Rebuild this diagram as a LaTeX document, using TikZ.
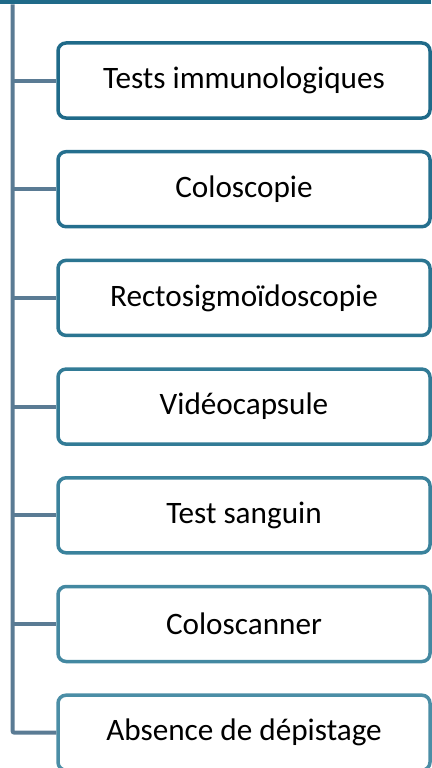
\documentclass[tikz,border=0pt]{standalone}
\usepackage{fontspec}
\setmainfont{Carlito}
\definecolor{linkc}{HTML}{5A7B94}
\definecolor{topc}{HTML}{1F6A89}
\definecolor{boxa}{HTML}{1F6A89}
\definecolor{boxb}{HTML}{256F8E}
\definecolor{boxc}{HTML}{2B7591}
\definecolor{boxd}{HTML}{327B96}
\definecolor{boxe}{HTML}{3A829C}
\definecolor{boxf}{HTML}{4388A1}
\definecolor{boxg}{HTML}{4B8EA6}
\begin{document}
\begin{tikzpicture}[x=1pt,y=-1pt,
  item/.style={draw=#1, line width=3.5pt, rounded corners=8pt, fill=white,
    minimum width=372pt, minimum height=75pt, inner sep=0pt,
    font=\fontsize{31.2}{34}\selectfont, text=black},
  link/.style={draw=linkc, line width=4pt}]
\useasboundingbox (0,0) rectangle (431,768);
\fill[topc] (0,0) rectangle (431,4.5);

\node[item=boxa] (b1) at (244,80.5) {Tests immunologiques};
\node[item=boxb] (b2) at (244,189.2) {Coloscopie};
\node[item=boxc] (b3) at (244,297.9) {Rectosigmoïdoscopie};
\node[item=boxd] (b4) at (244,406.6) {Vidéocapsule};
\node[item=boxe] (b5) at (244,515.3) {Test sanguin};
\node[item=boxf] (b6) at (244,624.0) {Coloscanner};
\node[item=boxg] (b7) at (244,732.7) {Absence de dépistage};

\coordinate (root) at (12.5,4.5);
\draw[link, rounded corners=2pt] (root) |- (b7.west);
\foreach \i in {1,...,6}
  \draw[link] (root |- b\i.west) -- (b\i.west);
\end{tikzpicture}
\end{document}
